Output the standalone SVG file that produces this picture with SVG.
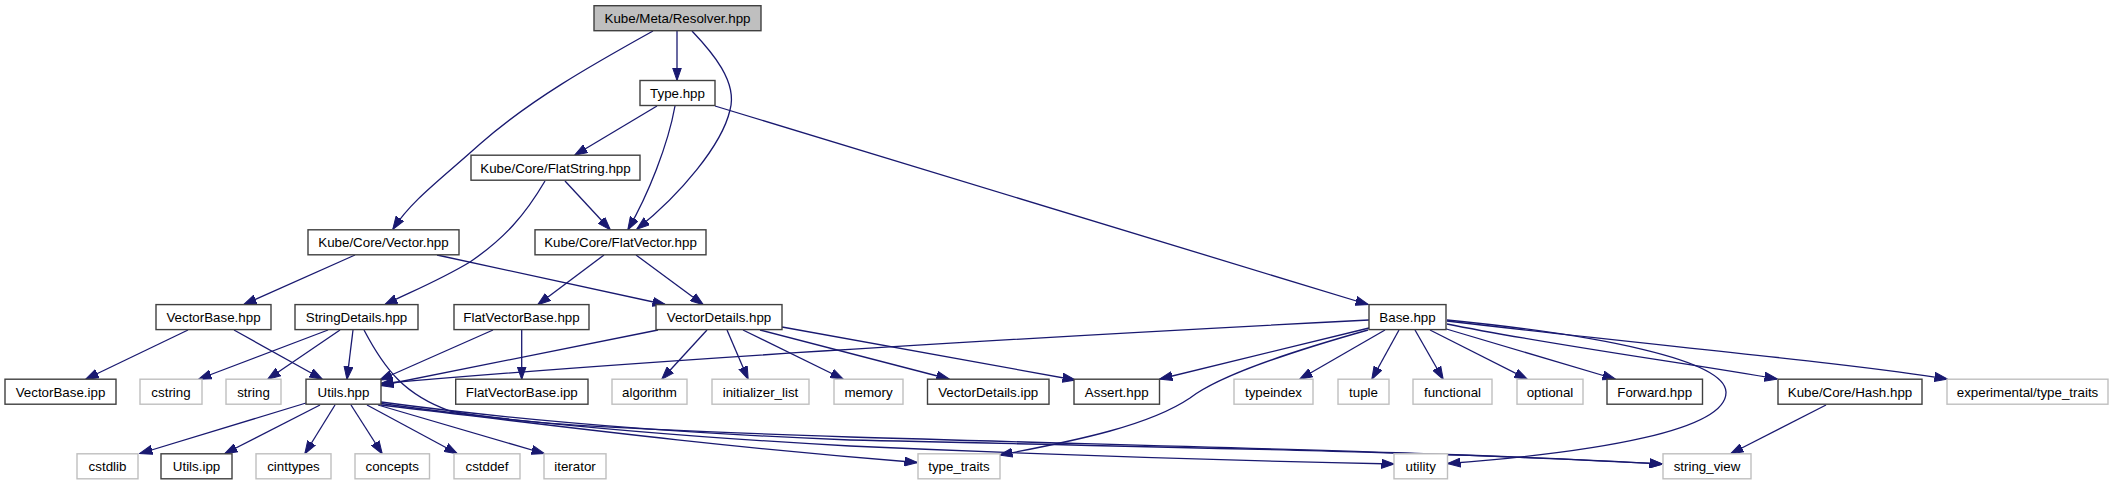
<svg xmlns="http://www.w3.org/2000/svg" width="2113" height="485" viewBox="0 0 2113 485">
<defs>
<marker id="ah" markerWidth="13" markerHeight="10" refX="12.5" refY="5" orient="auto" markerUnits="userSpaceOnUse"><path d="M0,0.5 L13,5 L0,9.5 z" fill="#191970" stroke="#191970" stroke-width="1"/></marker>
<style>
.n rect{fill:#ffffff;stroke:#404040;stroke-width:1.4}
.g rect{fill:#ffffff;stroke:#bfbfbf;stroke-width:1.4}
.r rect{fill:#bfbfbf;stroke:#404040;stroke-width:1.4}
text{font-family:"Liberation Sans",Arial,sans-serif;font-size:13.33px;fill:#000;text-anchor:middle}
#edges path{fill:none;stroke:#191970;stroke-width:1.3;marker-end:url(#ah)}
</style>
</defs>
<rect width="2113" height="485" fill="#ffffff"/>
<g id="edges">
<path d="M677,31 L677,80"/>
<path d="M653,31 C590,66 530,100 480,144 C440,180 412,200 393,229"/>
<path d="M692,31 C712,52 738,82 730,110 C722,145 680,195 637,229"/>
<path d="M657,106 L575,155"/>
<path d="M675,106 C668,145 648,195 628,229.5"/>
<path d="M715,106 L1368,304.5"/>
<path d="M565,181 L610,229.5"/>
<path d="M545,181 C525,215 505,238 470,262 C440,280 415,290 385,304.5"/>
<path d="M355,255 L244,304.5"/>
<path d="M437,255 L665,304.5"/>
<path d="M604,255 L538,304.5"/>
<path d="M636,255 L703,304.5"/>
<path d="M188,330 L86,379"/>
<path d="M234,330 L322,379"/>
<path d="M328,330 L199,379"/>
<path d="M340,330 L268,379"/>
<path d="M353,330 L347,379"/>
<path d="M364,330 C385,370 405,395 450,411 C520,425 650,430 850,437 C1150,446 1450,452 1662,464"/>
<path d="M493,330 L380,380"/>
<path d="M521.7,330 L521.7,379"/>
<path d="M658,330 L381,385.5"/>
<path d="M707,330 L662,379"/>
<path d="M727,330 L748,379"/>
<path d="M743,330 L843,379"/>
<path d="M760,330 L949,379"/>
<path d="M782,327 L1075,380"/>
<path d="M1369,320 C1000,339 650,360 381,383.5"/>
<path d="M1369,328 L1160,379"/>
<path d="M1368,330 C1290,352 1220,375 1190,398 C1150,425 1080,440 1000,455"/>
<path d="M1385,330 L1300,379"/>
<path d="M1399,330 L1372,379"/>
<path d="M1415,330 L1443,379"/>
<path d="M1430,330 L1527,379"/>
<path d="M1443,328 L1615,379"/>
<path d="M1447,324 C1550,345 1700,365 1777,379"/>
<path d="M1447,321 C1650,345 1850,363 1947,379"/>
<path d="M1447,320 C1600,335 1725,360 1726,392 C1727,430 1600,452 1448,463.5"/>
<path d="M1826,405 L1731,453.5"/>
<path d="M306,403 L140,453.5"/>
<path d="M320,405 L225,453.5"/>
<path d="M335,405 L305,453.5"/>
<path d="M351,405 L382,453.5"/>
<path d="M367,405 L457,453.5"/>
<path d="M378,405 L544,453.5"/>
<path d="M381,405 C550,425 700,445 917,462.5"/>
<path d="M381,403.5 C500,420 650,435 850,446 C1050,455 1250,461 1394,464"/>
<path d="M381,402 C500,418 650,432 850,440 C1150,447 1450,452 1662,464"/>
</g>
<g id="resolver" class="r"><rect x="594" y="5.7" width="167" height="25"/><text x="677.5" y="23">Kube/Meta/Resolver.hpp</text></g>
<g id="type" class="n"><rect x="640" y="80.5" width="75" height="25"/><text x="677.5" y="97.8">Type.hpp</text></g>
<g id="flatstring" class="n"><rect x="471" y="155.2" width="169" height="25"/><text x="555.5" y="172.5">Kube/Core/FlatString.hpp</text></g>
<g id="vector" class="n"><rect x="308" y="229.8" width="151" height="25"/><text x="383.5" y="247.1">Kube/Core/Vector.hpp</text></g>
<g id="flatvector" class="n"><rect x="535" y="229.8" width="171" height="25"/><text x="620.5" y="247.1">Kube/Core/FlatVector.hpp</text></g>
<g id="vectorbase" class="n"><rect x="156" y="304.6" width="115" height="25"/><text x="213.5" y="321.9">VectorBase.hpp</text></g>
<g id="stringdetails" class="n"><rect x="295" y="304.6" width="123" height="25"/><text x="356.5" y="321.9">StringDetails.hpp</text></g>
<g id="flatvectorbase" class="n"><rect x="454" y="304.6" width="135" height="25"/><text x="521.5" y="321.9">FlatVectorBase.hpp</text></g>
<g id="vectordetails" class="n"><rect x="656" y="304.6" width="126" height="25"/><text x="719" y="321.9">VectorDetails.hpp</text></g>
<g id="base" class="n"><rect x="1369" y="304.6" width="77" height="25"/><text x="1407.5" y="321.9">Base.hpp</text></g>
<g id="vectorbase_ipp" class="n"><rect x="5" y="379.2" width="111" height="25"/><text x="60.5" y="396.5">VectorBase.ipp</text></g>
<g id="cstring" class="g"><rect x="140" y="379.2" width="62" height="25"/><text x="171" y="396.5">cstring</text></g>
<g id="string" class="g"><rect x="226" y="379.2" width="55" height="25"/><text x="253.5" y="396.5">string</text></g>
<g id="utils" class="n"><rect x="306" y="379.2" width="75" height="25"/><text x="343.5" y="396.5">Utils.hpp</text></g>
<g id="flatvectorbase_ipp" class="n"><rect x="455.7" y="379.2" width="132.3" height="25"/><text x="521.8" y="396.5">FlatVectorBase.ipp</text></g>
<g id="algorithm" class="g"><rect x="612" y="379.2" width="75" height="25"/><text x="649.5" y="396.5">algorithm</text></g>
<g id="initializer_list" class="g"><rect x="712" y="379.2" width="97" height="25"/><text x="760.5" y="396.5">initializer_list</text></g>
<g id="memory" class="g"><rect x="834" y="379.2" width="69" height="25"/><text x="868.5" y="396.5">memory</text></g>
<g id="vectordetails_ipp" class="n"><rect x="927.5" y="379.2" width="121.5" height="25"/><text x="988.2" y="396.5">VectorDetails.ipp</text></g>
<g id="assert" class="n"><rect x="1074" y="379.2" width="85.5" height="25"/><text x="1116.7" y="396.5">Assert.hpp</text></g>
<g id="typeindex" class="g"><rect x="1234" y="379.2" width="79" height="25"/><text x="1273.5" y="396.5">typeindex</text></g>
<g id="tuple" class="g"><rect x="1338" y="379.2" width="51" height="25"/><text x="1363.5" y="396.5">tuple</text></g>
<g id="functional" class="g"><rect x="1413" y="379.2" width="79" height="25"/><text x="1452.5" y="396.5">functional</text></g>
<g id="optional" class="g"><rect x="1517" y="379.2" width="66" height="25"/><text x="1550" y="396.5">optional</text></g>
<g id="forward" class="n"><rect x="1607" y="379.2" width="95.5" height="25"/><text x="1654.7" y="396.5">Forward.hpp</text></g>
<g id="hash" class="n"><rect x="1778" y="379.2" width="144" height="25"/><text x="1850" y="396.5">Kube/Core/Hash.hpp</text></g>
<g id="exp_type_traits" class="g"><rect x="1947" y="379.2" width="161" height="25"/><text x="2027.5" y="396.5">experimental/type_traits</text></g>
<g id="cstdlib" class="g"><rect x="77" y="453.8" width="61" height="25"/><text x="107.5" y="471.1">cstdlib</text></g>
<g id="utils_ipp" class="n"><rect x="161" y="453.8" width="71" height="25"/><text x="196.5" y="471.1">Utils.ipp</text></g>
<g id="cinttypes" class="g"><rect x="256" y="453.8" width="75" height="25"/><text x="293.5" y="471.1">cinttypes</text></g>
<g id="concepts" class="g"><rect x="355" y="453.8" width="74.5" height="25"/><text x="392.2" y="471.1">concepts</text></g>
<g id="cstddef" class="g"><rect x="454" y="453.8" width="66" height="25"/><text x="487" y="471.1">cstddef</text></g>
<g id="iterator" class="g"><rect x="544" y="453.8" width="62" height="25"/><text x="575" y="471.1">iterator</text></g>
<g id="type_traits" class="g"><rect x="918" y="453.8" width="82" height="25"/><text x="959" y="471.1">type_traits</text></g>
<g id="utility" class="g"><rect x="1394" y="453.8" width="53.5" height="25"/><text x="1420.7" y="471.1">utility</text></g>
<g id="string_view" class="g"><rect x="1663" y="453.8" width="88" height="25"/><text x="1707" y="471.1">string_view</text></g>
</svg>
